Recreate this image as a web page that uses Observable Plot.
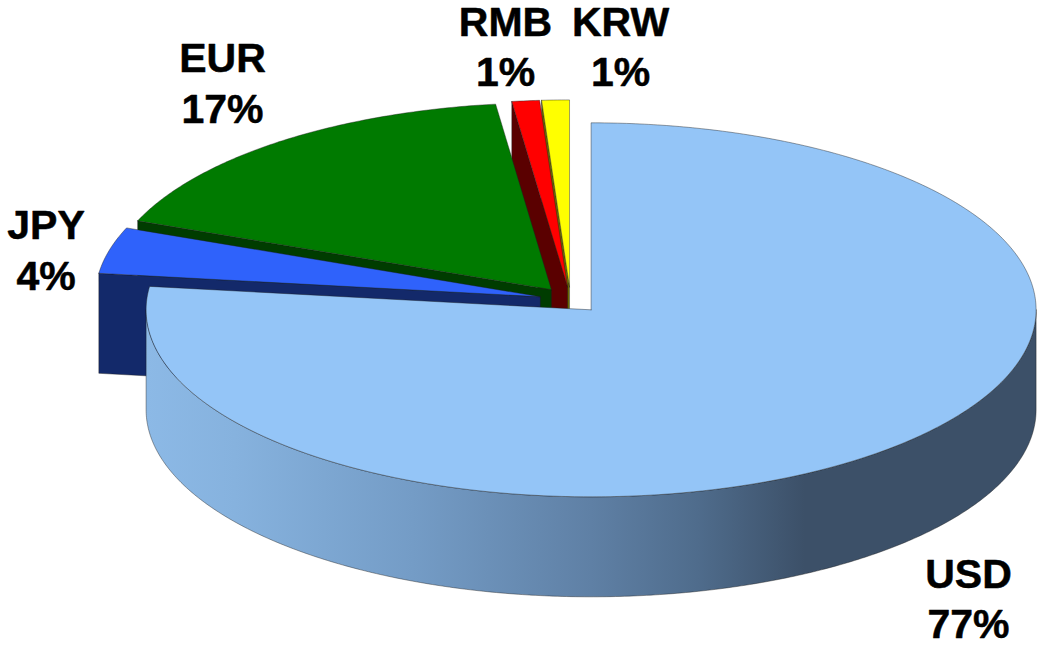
<!DOCTYPE html>
<html>
<head>
<meta charset="utf-8">
<script src="https://cdn.jsdelivr.net/npm/d3@7"></script>
<script src="https://cdn.jsdelivr.net/npm/@observablehq/plot@0.6"></script>
<style>
html,body{margin:0;padding:0;background:#fff}
svg{display:block}
</style>
</head>
<body>
<div id="chart"></div>
<script>
// Data, clockwise from twelve o'clock
const currencies = ["USD", "JPY", "EUR", "RMB", "KRW"];
const shares = [77, 4, 17, 1, 1];

// Styles
const topColors = ["#94c5f7", "#2f62fb", "#007a00", "#ff0000", "#ffff00"];
const faceColors = ["#3c5068", "#13296a", "#003c00", "#5a0000", "#6b6b00"];

// Pie projection (layout, in pixels of the x and y scales)
const W = 1037, H = 647;
const cx = 570, cy = 299.5, rx = 445, ry = 187, depth = 100, explode = 0.07;
// Label block centres (layout)
const labelX = [968, 45.5, 222, 505, 620];
const labelY = [596.5, 248, 81, 44.5, 44.5];

const total = d3.sum(shares);
let acc = 0;
const slices = currencies.map((name, i) => {
  const a0 = acc / total * 2 * Math.PI;
  acc += shares[i];
  const a1 = acc / total * 2 * Math.PI;
  const m = (a0 + a1) / 2;
  return {name, i, a0, a1, ox: cx + explode * rx * Math.sin(m), oy: cy - explode * ry * Math.cos(m)};
});

const rim = (s, a, dz = 0) => ({x: s.ox + rx * Math.sin(a), y: s.oy - ry * Math.cos(a) + dz});
const arc = (s, a0, a1, dz = 0) => {
  const n = Math.max(2, Math.ceil(Math.abs(a1 - a0) / 0.01));
  return d3.range(n + 1).map(k => rim(s, a0 + (a1 - a0) * k / n, dz));
};
const close = pts => [...pts, pts[0]];

const polyMark = (pts, fill) => Plot.line(close(pts), {
  x: "x", y: "y", fill, stroke: "#1c1c1c", strokeWidth: 0.7, strokeOpacity: 0.6, curve: "linear", strokeLinejoin: "round"
});

const marks = [];

// Gradient definition used by the front wall of the largest slice
marks.push(() => {
  const ns = "http://www.w3.org/2000/svg";
  const defs = document.createElementNS(ns, "defs");
  const g = document.createElementNS(ns, "linearGradient");
  g.setAttribute("id", "wall");
  [[0, "#8cb9e6"], [0.1, "#86b2de"], [0.3, "#749cc6"], [0.5, "#5f80a5"], [0.62, "#4f6c8c"], [0.74, "#3c5068"], [1, "#3c5068"]].forEach(([o, c]) => {
    const st = document.createElementNS(ns, "stop");
    st.setAttribute("offset", o);
    st.setAttribute("stop-color", c);
    g.appendChild(st);
  });
  defs.appendChild(g);
  return defs;
});

// Painter's order: back slices first
[...slices].reverse().forEach(s => {
  // Radial face at the start of the slice, seen where it turns left
  if (Math.sin(s.a0) < -1e-6) {
    const o = {x: s.ox, y: s.oy}, p = rim(s, s.a0);
    marks.push(polyMark([p, o, {x: o.x, y: o.y + depth}, {x: p.x, y: p.y + depth}], faceColors[s.i]));
  }
  // Outer wall on the front half of the ellipse
  const f0 = Math.max(s.a0, Math.PI / 2), f1 = Math.min(s.a1, 3 * Math.PI / 2);
  if (f1 > f0) {
    marks.push(polyMark([...arc(s, f0, f1), ...arc(s, f1, f0, depth)], "url(#wall)"));
  }
  // Top
  marks.push(polyMark([{x: s.ox, y: s.oy}, ...arc(s, s.a0, s.a1)], topColors[s.i]));
});

// Labels
marks.push(Plot.text(slices, {
  x: s => labelX[s.i],
  y: s => labelY[s.i],
  text: s => `${s.name}\n${shares[s.i]}%`,
  fontFamily: "Liberation Sans",
  fontWeight: "bold",
  fontSize: 41,
  lineHeight: 1.23,
  fill: "#000",
  stroke: "#000",
  strokeWidth: 0.5,
  textAnchor: "middle",
  lineAnchor: "middle"
}));

const chart = Plot.plot({
  width: W,
  height: H,
  margin: 0,
  x: {domain: [0, W], range: [0, W], axis: null},
  y: {domain: [0, H], range: [0, H], axis: null},
  style: {background: "#fff", overflow: "visible"},
  marks
});
document.getElementById("chart").appendChild(chart);
</script>
</body>
</html>
